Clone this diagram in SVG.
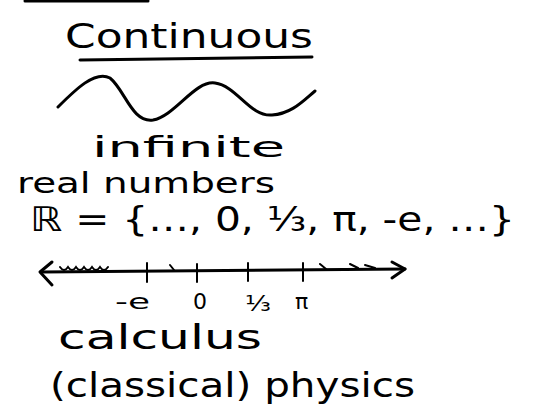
<svg xmlns="http://www.w3.org/2000/svg" width="534" height="417" viewBox="0 0 534 417">
<style>
.t{font-family:"DejaVu Sans","Liberation Sans",sans-serif;fill:#000;font-size:34px}
.m{font-family:"DejaVu Sans","Liberation Sans",sans-serif;fill:#000;font-size:28px}
.s{font-family:"DejaVu Sans","Liberation Sans",sans-serif;fill:#000;font-size:22px}
.ln{fill:none;stroke:#000;stroke-width:3;stroke-linecap:round;stroke-linejoin:round}
.tk{fill:none;stroke:#000;stroke-width:2;stroke-linecap:round}
</style>
<rect width="534" height="417" fill="#fff"/>
<line class="ln" x1="25" y1="1" x2="148" y2="1" stroke-width="4"/>
<text class="t" x="65" y="48" textLength="248" lengthAdjust="spacingAndGlyphs">Continuous</text>
<path class="ln" d="M80,60 L312,57"/>
<path class="ln" d="M58,107 C75,90 95,70 110,78 C125,90 132,123 153,120 C175,116 195,80 215,83 C237,86 250,117 272,115 C292,114 305,99 315,91"/>
<text class="m" x="92" y="157" textLength="193" lengthAdjust="spacingAndGlyphs">infinite</text>
<text class="m" x="17" y="193" textLength="258" lengthAdjust="spacingAndGlyphs">real numbers</text>
<text class="t" x="30" y="231" textLength="485" lengthAdjust="spacingAndGlyphs">ℝ = {…, 0, ⅓, π, -e, …}</text>
<g id="number-line">
<path class="ln" d="M42,272 L405,269"/>
<path class="ln" d="M52,262 L40,272 L52,285"/>
<path class="ln" d="M392,262 L405,269 L392,278"/>
<path class="tk" d="M60,267 q4,6 8,0 q4,6 8,0 q4,6 8,0 q4,6 8,0 q4,6 8,0 q4,6 8,0 M170,265 l4,5 M320,264 l6,5 M350,264 l8,4 M365,265 l10,3"/>
<path class="tk" d="M147,263 L147,282 M197,264 L197,282 M248,263 L248,281 M303,263 L303,281" stroke-width="2.5"/>
</g>
<text class="s" x="115" y="309" textLength="35" lengthAdjust="spacingAndGlyphs">-e</text>
<text class="s" x="193" y="309">0</text>
<text class="s" x="245" y="311" textLength="26" lengthAdjust="spacingAndGlyphs">⅓</text>
<text class="s" x="295" y="309">π</text>
<text class="t" x="58" y="349" textLength="204" lengthAdjust="spacingAndGlyphs">calculus</text>
<text class="t" x="50" y="397" textLength="365" lengthAdjust="spacingAndGlyphs">(classical) physics</text>
</svg>
